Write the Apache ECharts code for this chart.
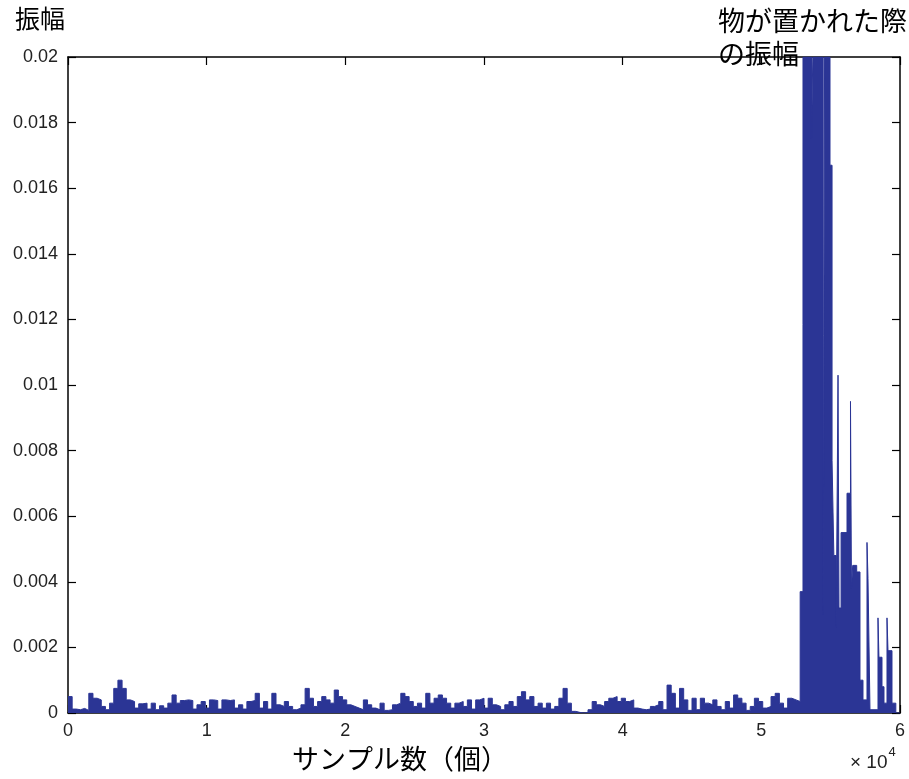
<!DOCTYPE html>
<html>
<head>
<meta charset="utf-8">
<script src="https://cdn.jsdelivr.net/npm/echarts@6/dist/echarts.min.js"></script>
<style>html,body{margin:0;padding:0;background:#fff}#c{width:909px;height:779px}</style>
</head>
<body>
<div id="c"></div>
<script>
// noise segment: amplitudes in units of 1e-5, one value per bin of noiseStep samples
const noiseStep = 300;
const noiseAmp = [
  50,12,10,14,8,60,45,40,20,10,30,75,100,75,40,35,15,28,30,12,30,10,22,15,30,55,30,38,40,38,12,25,35,15,40,38,12,40,38,40,15,25,12,35,38,
  60,15,35,12,60,25,20,35,20,10,15,25,75,45,20,35,50,40,30,70,50,40,25,20,15,10,40,25,15,10,30,8,10,25,30,60,50,35,20,30,15,60,30,45,
  55,45,30,15,30,35,20,40,12,40,45,15,45,25,20,10,25,35,20,50,65,40,50,20,30,15,30,12,20,45,75,30,5,2,0,2,10,35,25,20,35,45,50,35,
  45,35,40,15,12,10,12,20,25,35,10,85,60,15,75,40,8,45,10,45,30,25,40,20,10,35,15,55,45,30,8,20,45,35,15,20,50,60,30,15,45,40,35
];
// burst segment: sample index and amplitude (values at 0.02 run off the top of the plot)
const burstSamples = [52800, 53004, 53617, 53711, 54461, 54560, 54952, 55100, 55230, 55400, 55530, 55600, 55750, 56178, 56430, 56500, 56589, 56877, 57115, 57331, 57620, 57692, 57836, 58413, 58480, 58701, 58846, 59062, 59134, 59422, 59700, 60000];
const burstAmp     = [0.0037, 0.02, 0.0175, 0.02, 0.003, 0.02, 0.0167, 0.0077, 0.0048, 0.0026, 0.0103, 0.0032, 0.0055, 0.0067, 0.0095, 0.0038, 0.0045, 0.0043, 0.0010, 0.0004, 0.0052, 0.0041, 0.0001, 0.0029, 0.0017, 0.0008, 0.0003, 0.0029, 0.0019, 0.0003, 0, 0];
const xTicks = [0, 10000, 20000, 30000, 40000, 50000, 60000];
const xTickLabels = ['0','1','2','3','4','5','6'];
const yTickLabels = ['0','0.002','0.004','0.006','0.008','0.01','0.012','0.014','0.016','0.018','0.02'];

const data = noiseAmp.map((a, i) => [i * noiseStep, a * 1e-5])
  .concat(burstSamples.map((s, i) => [s, burstAmp[i]]));

const blue = '#2b3595';
const axisCommon = {
  axisLine: { show: true, onZero: false, lineStyle: { color: '#000', width: 1.5 } },
  axisTick: { show: true, inside: true, length: 8, lineStyle: { color: '#000', width: 1.2 } },
  splitLine: { show: false }
};
const chart = echarts.init(document.getElementById('c'), null, { renderer: 'canvas' });
chart.setOption({
  animation: false,
  backgroundColor: '#fff',
  grid: { left: 68, right: 9, top: 57, bottom: 66 },
  xAxis: [
    Object.assign({}, axisCommon, {
      type: 'value', min: 0, max: 60000, interval: 10000, position: 'bottom',
      axisLabel: { margin: 9, fontFamily: 'Liberation Sans', fontSize: 18, color: '#222',
        formatter: v => xTickLabels[xTicks.indexOf(v)] }
    }),
    Object.assign({}, axisCommon, {
      type: 'value', min: 0, max: 60000, interval: 10000, position: 'top',
      axisLabel: { show: false }
    })
  ],
  yAxis: [
    Object.assign({}, axisCommon, {
      type: 'value', min: 0, max: 0.02, interval: 0.002, position: 'left',
      axisLabel: { margin: 10, fontFamily: 'Liberation Sans', fontSize: 18, color: '#222',
        formatter: v => yTickLabels[Math.round(v / 0.002)] }
    }),
    Object.assign({}, axisCommon, {
      type: 'value', min: 0, max: 0.02, interval: 0.002, position: 'right',
      axisLabel: { show: false }
    })
  ],
  series: [{
    type: 'line',
    xAxisIndex: 0, yAxisIndex: 0,
    data: data,
    step: 'end',
    showSymbol: false,
    clip: true,
    lineStyle: { color: blue, width: 1 },
    areaStyle: { color: blue, opacity: 1 },
    itemStyle: { color: blue }
  }],
  graphic: [
    { type: 'text', left: 15, top: 6, style: { text: '振幅', fontFamily: 'Noto Sans CJK JP', fontSize: 25, fill: '#000' } },
    { type: 'text', left: 718, top: 4, style: { text: '物が置かれた際\nの振幅', fontFamily: 'Noto Sans CJK JP', fontSize: 27, lineHeight: 33, fill: '#000' } },
    { type: 'text', left: 292, top: 745, style: { text: 'サンプル数（個）', fontFamily: 'Noto Sans CJK JP', fontSize: 27, fill: '#000' } },
    { type: 'text', left: 850, top: 746, style: { rich: { a: { fontFamily: 'Liberation Sans', fontSize: 19, fill: '#222', padding: [10,0,0,0] }, s: { fontFamily: 'Liberation Sans', fontSize: 13, fill: '#222', padding: [0,0,10,1] } }, text: '{a|× 10}{s|4}' } }
  ]
});
</script>
</body>
</html>
